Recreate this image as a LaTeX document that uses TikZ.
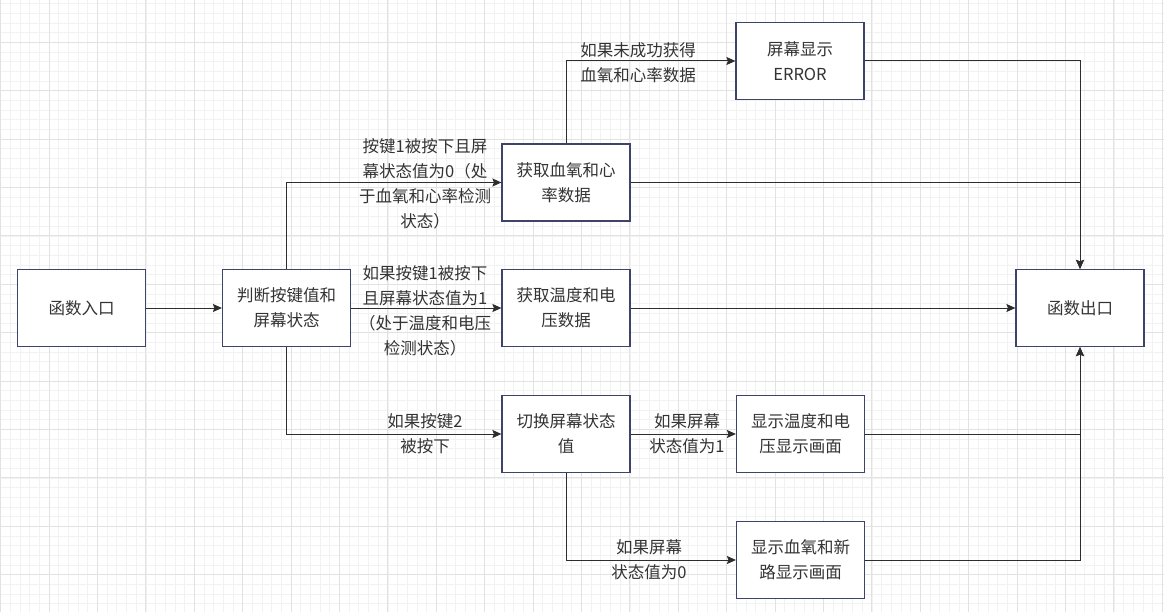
\documentclass[tikz,border=0pt]{standalone}
\usepackage{fontspec}
\setmainfont{Noto Sans CJK SC}
\usetikzlibrary{arrows.meta}
\definecolor{gridminor}{RGB}{242,242,242}
\definecolor{gridmajor}{RGB}{226,226,226}
\definecolor{boxline}{RGB}{62,67,105}
\definecolor{wire}{RGB}{45,45,45}
\definecolor{txt}{RGB}{51,51,51}
\tikzset{
  stepbox/.style={draw=boxline, line width=1.2pt, fill=white, minimum width=128pt, minimum height=77pt, inner sep=0pt, align=center, text=txt, font=\fontsize{16.5}{25}\selectfont},
  lbl/.style={align=center, text=txt, inner sep=0pt, font=\fontsize{16.5}{25}\selectfont},
  wireline/.style={draw=wire, line width=1pt},
  arr/.style={wireline, -{Stealth[length=9pt,width=8pt,inset=1.5pt]}}
}
\begin{document}
\begin{tikzpicture}[x=1pt,y=-1pt]
\useasboundingbox (0,0) rectangle (1164,612);
\fill[white] (0,0) rectangle (1164,612);
\begin{scope}
\clip (0,0) rectangle (1164,612);
\foreach \i in {0,...,121} {
  \draw[gridminor, line width=0.8pt] ({0.7+\i*9.68},0) -- ({0.7+\i*9.68},612);
}
\foreach \j in {-1,...,64} {
  \draw[gridminor, line width=0.8pt] (0,{3.6+\j*9.68}) -- (1164,{3.6+\j*9.68});
}
\foreach \i in {0,...,24} {
  \draw[gridmajor, line width=0.9pt] ({0.7+\i*48.4},0) -- ({0.7+\i*48.4},612);
}
\foreach \j in {0,...,13} {
  \draw[gridmajor, line width=0.9pt] (0,{-6.1+\j*48.4}) -- (1164,{-6.1+\j*48.4});
}
\end{scope}

% boxes
\node[stepbox] (entry) at (81.5,308) {函数入口};
\node[stepbox] (judge) at (286.5,308) {判断按键值和\\屏幕状态};
\node[stepbox] (spo2) at (566,182.5) {获取血氧和心\\率数据};
\node[stepbox] (temp) at (566,308) {获取温度和电\\压数据};
\node[stepbox] (error) at (800,61) {屏幕显示\\ERROR};
\node[stepbox] (exit) at (1080,308) {函数出口};
\node[stepbox] (switch) at (566,434) {切换屏幕状态\\值};
\node[stepbox] (showtemp) at (800.5,434) {显示温度和电\\压显示画面};
\node[stepbox] (showspo2) at (800.5,560) {显示血氧和新\\路显示画面};

% connectors
\draw[arr] (entry.east) -- (judge.west);
\draw[arr] (judge.north) |- (spo2.west);
\draw[arr] (judge.east) -- (temp.west);
\draw[arr] (judge.south) |- (switch.west);
\draw[arr] (spo2.north) |- (error.west);
\draw[arr] (error.east) -| (exit.north);
\draw[arr] (spo2.east) -| (exit.north);
\draw[arr] (temp.east) -- (exit.west);
\draw[arr] (switch.east) -- (showtemp.west);
\draw[arr] (switch.south) |- (showspo2.west);
\draw[arr] (showtemp.east) -| (exit.south);
\draw[arr] (showspo2.east) -| (exit.south);

% labels
\node[lbl] (l1) at (425,184) {按键1被按下且屏\\幕状态值为0（处\\于血氧和心率检测\\状态）};
\node[lbl] (l2) at (425,311) {如果按键1被按下\\且屏幕状态值为1\\（处于温度和电压\\检测状态）};
\node[lbl] (l3) at (425,433.5) {如果按键2\\被按下};
\node[lbl] (l4) at (638,62.5) {如果未成功获得\\血氧和心率数据};
\node[lbl] (l5) at (687,433.5) {如果屏幕\\状态值为1};
\node[lbl] (l6) at (649,559.5) {如果屏幕\\状态值为0};
\end{tikzpicture}
\end{document}
